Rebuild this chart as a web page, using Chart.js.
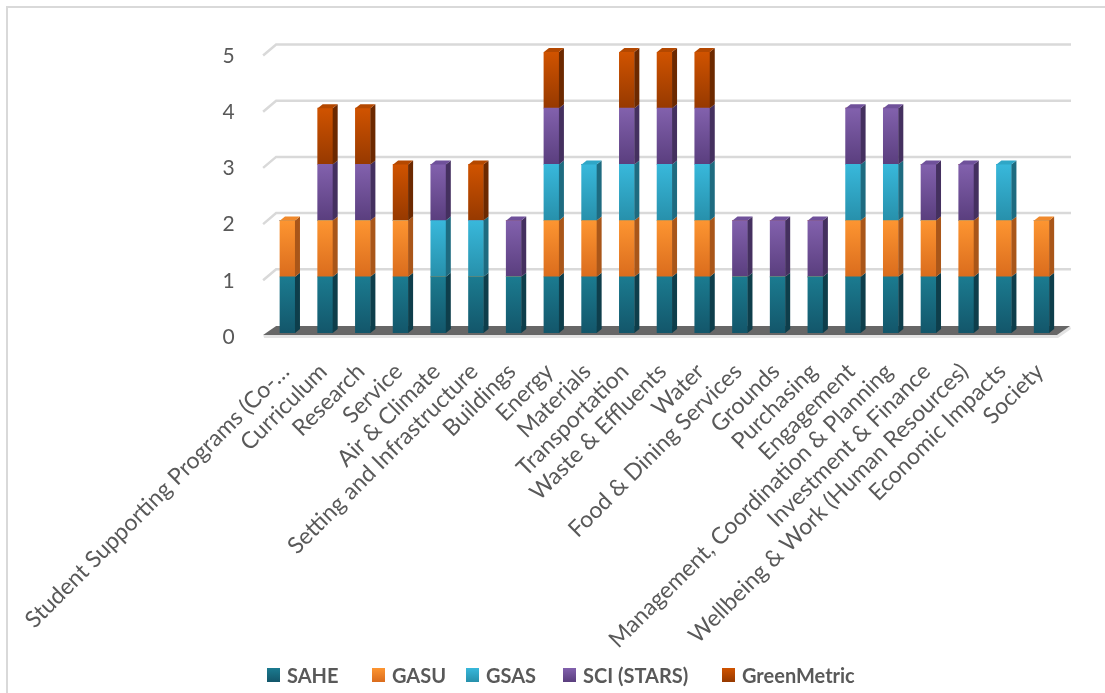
<!DOCTYPE html>
<html>
<head>
<meta charset="utf-8">
<script src="https://cdn.jsdelivr.net/npm/chart.js@4.4.0/dist/chart.umd.min.js"></script>
<style>
  html, body { margin: 0; padding: 0; background: #fff; }
  #wrap { position: relative; width: 1105px; height: 693px; overflow: hidden; }
  #frame { position: absolute; left: 6px; top: 6px; width: 1200px; height: 800px; border: 2px solid #d9d9d9; box-sizing: border-box; }
  #myChart { position: absolute; left: 0; top: 0; }
  .leg { position: absolute; top: 663px; height: 24px; font: bold 20px Lato, sans-serif; line-height: 24px; color: #595959; white-space: nowrap; }
  .leg i { position: absolute; left: 0; top: 5px; width: 13px; height: 14px; }
  .leg span { position: absolute; left: 20px; top: 0; }
</style>
</head>
<body>
<div id="wrap">
  <div id="frame"></div>
  <canvas id="myChart" width="1105" height="693"></canvas>
  <div id="legend"></div>
</div>
<script>
const categories = [
  'Student Supporting Programs (Co-…', 'Curriculum', 'Research', 'Service', 'Air & Climate',
  'Setting and Infrastructure', 'Buildings', 'Energy', 'Materials', 'Transportation',
  'Waste & Effluents', 'Water', 'Food & Dining Services', 'Grounds', 'Purchasing',
  'Engagement', 'Management, Coordination & Planning', 'Investment & Finance',
  'Wellbeing & Work (Human Resources)', 'Economic Impacts', 'Society'
];

const sahe        = [1, 1, 1, 1, 1, 1, 1, 1, 1, 1, 1, 1, 1, 1, 1, 1, 1, 1, 1, 1, 1];
const gasu        = [1, 1, 1, 1, 0, 0, 0, 1, 1, 1, 1, 1, 0, 0, 0, 1, 1, 1, 1, 1, 1];
const gsas        = [0, 0, 0, 0, 1, 1, 0, 1, 1, 1, 1, 1, 0, 0, 0, 1, 1, 0, 0, 1, 0];
const sci         = [0, 1, 1, 0, 1, 0, 1, 1, 0, 1, 1, 1, 1, 1, 1, 1, 1, 1, 1, 0, 0];
const greenMetric = [0, 1, 1, 1, 0, 1, 0, 1, 0, 1, 1, 1, 0, 0, 0, 0, 0, 0, 0, 0, 0];

const seriesNames = ['SAHE', 'GASU', 'GSAS', 'SCI (STARS)', 'GreenMetric'];
const series = [sahe, gasu, gsas, sci, greenMetric];
const yTicks = [0, 1, 2, 3, 4, 5];

// front face gradient (top, bottom), side face, top face
const palette = [
  { top: '#1b7b90', bottom: '#13566a', side: '#0e3e4b', cap: '#1f8299' },
  { top: '#fd9531', bottom: '#da6c1d', side: '#a95619', cap: '#f0892c' },
  { top: '#38b8db', bottom: '#2790ab', side: '#1e6b80', cap: '#2fa6c6' },
  { top: '#8261ad', bottom: '#5a3e7e', side: '#44305f', cap: '#6f519a' },
  { top: '#d05300', bottom: '#963900', side: '#6c2900', cap: '#b44800' }
];

const DX = 5, DY = 4;

function frontFill(ctx) {
  const pal = palette[ctx.datasetIndex];
  const chart = ctx.chart;
  const y = chart.scales.y;
  if (ctx.type !== 'data' || !y) return pal.top;
  const i = ctx.dataIndex, d = ctx.datasetIndex;
  let start = 0;
  for (let k = 0; k < d; k++) start += series[k][i];
  const y0 = y.getPixelForValue(start + series[d][i]);
  const y1 = y.getPixelForValue(start);
  if (!isFinite(y0) || !isFinite(y1) || y0 === y1) return pal.top;
  const g = chart.ctx.createLinearGradient(0, y0, 0, y1);
  g.addColorStop(0, pal.top);
  g.addColorStop(1, pal.bottom);
  return g;
}

// back wall grid lines and the floor slab
const wallAndFloor = {
  id: 'wallAndFloor',
  beforeDatasetsDraw(chart) {
    const c = chart.ctx, a = chart.chartArea, y = chart.scales.y;
    c.save();
    c.strokeStyle = '#d9d9d9';
    c.lineWidth = 2.5;
    yTicks.forEach(v => {
      if (v === 0) return;
      const yb = y.getPixelForValue(v) - 7.5;
      c.beginPath();
      c.moveTo(a.left - 5.5, yb + 11);
      c.lineTo(a.left + 7.5, yb);
      c.lineTo(a.right + 10.5, yb);
      c.stroke();
    });
    const y0 = y.getPixelForValue(0);
    c.fillStyle = '#e3e3e3';
    c.beginPath();
    c.moveTo(a.left - 5.5, y0 + 2);
    c.lineTo(a.right - 3.5, y0 + 2);
    c.lineTo(a.right + 9.5, y0 - 7);
    c.lineTo(a.right + 10.5, y0 - 4);
    c.lineTo(a.right - 2.5, y0 + 5);
    c.lineTo(a.left - 4.5, y0 + 5);
    c.closePath();
    c.fill();
    c.fillStyle = '#676767';
    c.beginPath();
    c.moveTo(a.left - 5.5, y0 + 2);
    c.lineTo(a.right - 3.5, y0 + 2);
    c.lineTo(a.right + 9.5, y0 - 7);
    c.lineTo(a.left + 7.5, y0 - 7);
    c.closePath();
    c.fill();
    c.restore();
  }
};

// side and top faces of the columns
const columnDepth = {
  id: 'columnDepth',
  afterDatasetsDraw(chart) {
    const c = chart.ctx;
    c.save();
    chart.data.datasets.forEach((ds, d) => {
      const meta = chart.getDatasetMeta(d);
      meta.data.forEach((bar, i) => {
        if (!ds.data[i]) return;
        const r = bar.x + bar.width / 2, l = bar.x - bar.width / 2;
        const top = bar.y, bot = bar.base;
        c.fillStyle = palette[d].side;
        c.beginPath();
        c.moveTo(r, bot);
        c.lineTo(r, top);
        c.lineTo(r + DX, top - DY);
        c.lineTo(r + DX, bot - DY);
        c.closePath();
        c.fill();
        let highest = true;
        for (let k = d + 1; k < series.length; k++) if (series[k][i]) highest = false;
        if (highest) {
          c.fillStyle = palette[d].cap;
          c.beginPath();
          c.moveTo(l, top);
          c.lineTo(r, top);
          c.lineTo(r + DX, top - DY);
          c.lineTo(l + DX, top - DY);
          c.closePath();
          c.fill();
        }
      });
    });
    c.restore();
  }
};

const ctx = document.getElementById('myChart').getContext('2d');
const myChart = new Chart(ctx, {
  type: 'bar',
  data: {
    labels: categories,
    datasets: series.map((s, d) => ({
      label: seriesNames[d],
      data: s,
      backgroundColor: frontFill,
      borderWidth: 0,
      barThickness: 15
    }))
  },
  options: {
    responsive: false,
    animation: false,
    layout: { padding: { top: 52, right: 44.5, left: 0, bottom: 0 } },
    plugins: { legend: { display: false }, tooltip: { enabled: false } },
    scales: {
      x: {
        stacked: true,
        grid: { display: false, drawTicks: false },
        border: { display: false },
        ticks: {
          autoSkip: false, minRotation: 45, maxRotation: 45, padding: 25, labelOffset: -2,
          color: '#595959', font: { family: 'Lato', size: 23 }
        },
        afterFit(s) { s.height = 360; }
      },
      y: {
        stacked: true, min: 0, max: 5,
        grid: { display: false },
        border: { display: false },
        ticks: {
          stepSize: 1, padding: 26, labelOffset: 4,
          color: '#595959', font: { family: 'Lato', size: 21 }
        },
        afterFit(s) { s.width = 260.5; }
      }
    }
  },
  plugins: [wallAndFloor, columnDepth]
});

// legend row under the chart
const legendLeft = [267, 372, 466, 563, 722];
const legend = document.getElementById('legend');
seriesNames.forEach((name, d) => {
  const item = document.createElement('div');
  item.className = 'leg';
  item.style.left = legendLeft[d] + 'px';
  const sw = document.createElement('i');
  sw.style.background = 'linear-gradient(' + palette[d].top + ',' + palette[d].bottom + ')';
  const txt = document.createElement('span');
  txt.textContent = name;
  item.appendChild(sw);
  item.appendChild(txt);
  legend.appendChild(item);
});
</script>
</body>
</html>
